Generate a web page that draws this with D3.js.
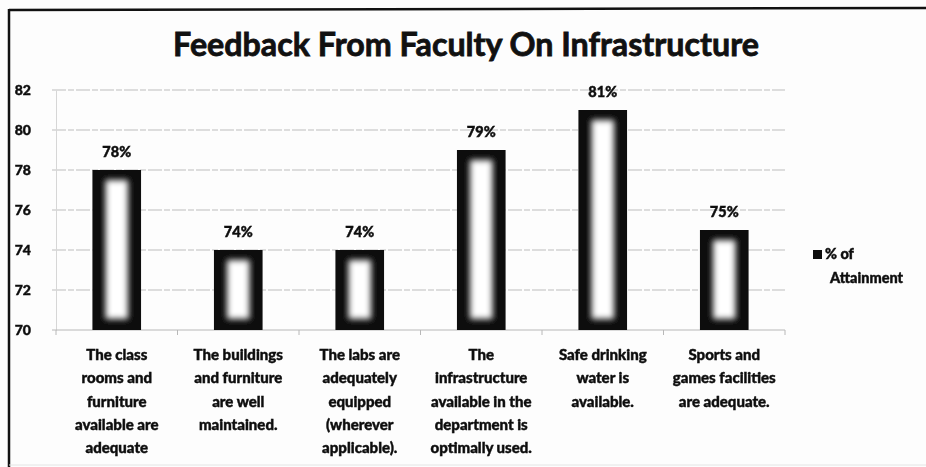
<!DOCTYPE html>
<html>
<head>
<meta charset="utf-8">
<script src="https://cdn.jsdelivr.net/npm/d3@7"></script>
<style>
  html, body { margin: 0; padding: 0; background: #fff; }
  svg { display: block; font-family: Lato, "Open Sans", sans-serif; font-weight: 900; }
  svg text { stroke: #111; stroke-width: 0.45px; }
</style>
</head>
<body>
<div id="chart"></div>
<script>
// chart data
const categories = [
    ["The class", "rooms and", "furniture", "available are", "adequate"],
    ["The buildings", "and furniture", "are well", "maintained."],
    ["The labs are", "adequately", "equipped", "(wherever", "applicable)."],
    ["The", "infrastructure", "available in the", "department is", "optimally used."],
    ["Safe drinking", "water is", "available."],
    ["Sports and", "games facilities", "are adequate."]
];
const values = [78, 74, 74, 79, 81, 75];
const valueLabels = ["78%", "74%", "74%", "79%", "81%", "75%"];
const yTicks = [70, 72, 74, 76, 78, 80, 82];
const seriesName = ["% of", "Attainment"];
const title = "Feedback From Faculty On Infrastructure";

// set the dimensions
var width = 926, height = 467;
var plot = {left: 56, right: 785, top: 90, bottom: 330};

const svg = d3.select("#chart")
    .append("svg")
    .attr("width", width)
    .attr("height", height);

// glow filter for the bar centres
const defs = svg.append("defs");
defs.append("filter")
    .attr("id", "glow")
    .attr("x", "-50%").attr("y", "-50%")
    .attr("width", "200%").attr("height", "200%")
    .append("feGaussianBlur")
    .attr("stdDeviation", 3.2);
defs.append("filter")
    .attr("id", "soft")
    .append("feGaussianBlur")
    .attr("stdDeviation", 0.6);

// frame
svg.append("rect")
    .attr("x", 0).attr("y", 0)
    .attr("width", width).attr("height", height)
    .attr("fill", "#fdfdfd");
svg.append("line")
    .attr("x1", 9).attr("x2", width)
    .attr("y1", 10).attr("y2", 8)
    .attr("stroke", "#111").attr("stroke-width", 2.5);
svg.append("line")
    .attr("x1", 9).attr("x2", 9)
    .attr("y1", 9).attr("y2", height)
    .attr("stroke", "#111").attr("stroke-width", 2.5);
svg.append("line")
    .attr("x1", 9).attr("x2", width)
    .attr("y1", 465).attr("y2", 465)
    .attr("stroke", "#e4e4e4").attr("stroke-width", 1);

// title, fitted to the width in the picture
const titleText = svg.append("text")
    .attr("x", 466)
    .attr("y", 56)
    .attr("text-anchor", "middle")
    .attr("font-size", 27)
    .attr("font-weight", "bold")
    .attr("fill", "#111")
    .style("stroke-width", "0.8px")
    .text(title);
const tw = titleText.node().getComputedTextLength();
titleText.attr("font-size", 27 * 586 / tw);

// scales
var x = d3.scaleBand()
    .domain(d3.range(categories.length))
    .range([plot.left, plot.right])
    .paddingInner(0.6)
    .paddingOuter(0.3);

var y = d3.scaleLinear()
    .domain([70, 82])
    .range([plot.bottom, plot.top]);

const g = svg.append("g").attr("filter", "url(#soft)");

// gridlines
g.selectAll(".grid")
    .data(yTicks.slice(1))
    .enter()
    .append("line")
    .attr("x1", plot.left - 4)
    .attr("x2", plot.right)
    .attr("y1", d => y(d))
    .attr("y2", d => y(d))
    .attr("stroke", "#bdbdbd")
    .attr("stroke-width", 1)
    .attr("stroke-dasharray", "14 2 6 2");

// y axis
const yAxis = g.append("g")
    .attr("transform", "translate(" + plot.left + ",0)")
    .call(d3.axisLeft(y).tickValues(yTicks).tickSize(0).tickPadding(25));
yAxis.select(".domain").attr("stroke", "#d6d6d6");
yAxis.selectAll("text")
    .attr("font-size", 14)
    .attr("font-family", "Lato, sans-serif")
    .attr("font-weight", 900)
    .attr("fill", "#111");

// x axis line with ticks at the category boundaries
const step = x.step();
const boundaries = d3.range(categories.length + 1).map(i => plot.left + i * step);
g.append("line")
    .attr("x1", plot.left - 4).attr("x2", plot.right)
    .attr("y1", plot.bottom).attr("y2", plot.bottom)
    .attr("stroke", "#b8b8b8");
g.selectAll(".xtick")
    .data(boundaries)
    .enter()
    .append("line")
    .attr("x1", d => d).attr("x2", d => d)
    .attr("y1", plot.bottom).attr("y2", plot.bottom + 5)
    .attr("stroke", "#b8b8b8");

// bars
const bars = g.selectAll(".bar")
    .data(values)
    .enter()
    .append("g");

bars.append("rect")
    .attr("x", (d, i) => x(i))
    .attr("y", d => y(d))
    .attr("width", x.bandwidth())
    .attr("height", d => plot.bottom - y(d))
    .attr("fill", "#0a0a0a");

bars.append("rect")
    .attr("x", (d, i) => x(i) + 13)
    .attr("y", d => y(d) + 10)
    .attr("width", x.bandwidth() - 26)
    .attr("height", d => plot.bottom - y(d) - 21)
    .attr("fill", "#fff")
    .attr("filter", "url(#glow)");

// value labels
g.selectAll(".val")
    .data(values)
    .enter()
    .append("text")
    .attr("x", (d, i) => x(i) + x.bandwidth() / 2)
    .attr("y", d => y(d) - 13)
    .attr("text-anchor", "middle")
    .attr("font-size", 14.5)
    .attr("fill", "#111")
    .text((d, i) => valueLabels[i]);

// category labels
const cat = g.selectAll(".cat")
    .data(categories)
    .enter()
    .append("text")
    .attr("text-anchor", "middle")
    .attr("font-size", 15)
    .attr("fill", "#111");
cat.selectAll("tspan")
    .data((d, i) => d.map(line => ({line, i})))
    .enter()
    .append("tspan")
    .attr("x", d => x(d.i) + x.bandwidth() / 2)
    .attr("y", (d, j) => 360 + j * 23.3)
    .text(d => d.line);

// legend
g.append("rect")
    .attr("x", 813).attr("y", 250)
    .attr("width", 9).attr("height", 9)
    .attr("fill", "#111");
g.append("text")
    .attr("x", 825).attr("y", 259)
    .attr("font-size", 14.5)
    .attr("fill", "#111")
    .text(seriesName[0]);
g.append("text")
    .attr("x", 830).attr("y", 283)
    .attr("font-size", 14.5)
    .attr("fill", "#111")
    .text(seriesName[1]);
</script>
</body>
</html>
